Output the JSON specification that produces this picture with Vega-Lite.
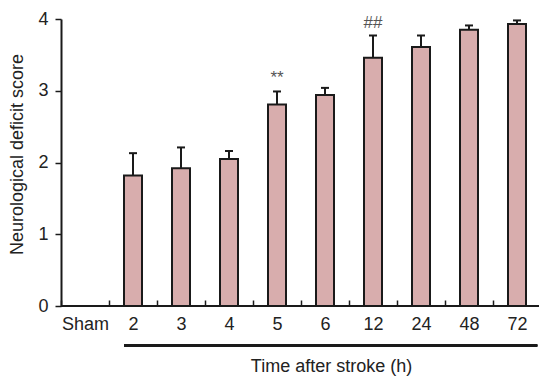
{
  "$schema": "https://vega.github.io/schema/vega-lite/v6.json",
  "autosize": "none",
  "width": 480,
  "height": 287,
  "padding": {"left": 61, "top": 19, "right": 0, "bottom": 70},
  "background": "white",
  "config": {
    "view": {"stroke": null},
    "font": "Liberation Sans",
    "axis": {"grid": false, "domainColor": "#1a1a1a", "domainWidth": 2, "tickColor": "#1a1a1a", "tickWidth": 1.5, "labelColor": "#222", "titleColor": "#222", "labelFont": "Liberation Sans", "titleFont": "Liberation Sans", "titleFontWeight": "normal"}
  },
  "data": {
    "values": [
      {"time": "Sham", "mean": null, "err": null, "sig": ""},
      {"time": "2", "mean": 1.82, "err": 2.13, "sig": ""},
      {"time": "3", "mean": 1.92, "err": 2.21, "sig": ""},
      {"time": "4", "mean": 2.05, "err": 2.16, "sig": ""},
      {"time": "5", "mean": 2.81, "err": 2.99, "sig": "**"},
      {"time": "6", "mean": 2.94, "err": 3.04, "sig": ""},
      {"time": "12", "mean": 3.46, "err": 3.77, "sig": "##"},
      {"time": "24", "mean": 3.61, "err": 3.77, "sig": ""},
      {"time": "48", "mean": 3.85, "err": 3.91, "sig": ""},
      {"time": "72", "mean": 3.93, "err": 3.98, "sig": ""}
    ]
  },
  "encoding": {
    "x": {
      "field": "time", "type": "nominal", "sort": null,
      "scale": {"domain": ["Sham", "2", "3", "4", "5", "6", "12", "24", "48", "72"], "paddingInner": 0, "paddingOuter": 0},
      "axis": {
        "title": "Time after stroke (h)", "titleFontSize": 18, "titleX": 270, "titleY": 71, "titleBaseline": "alphabetic", "titleAnchor": null,
        "labelAngle": 0, "labelFontSize": 18, "labelPadding": 9,
        "domain": false, "ticks": true, "tickBand": "extent", "tickSize": 6, "offset": -6, "labelFlush": false
      }
    }
  },
  "layer": [
    {
      "mark": {"type": "bar", "width": {"band": 0.375}, "fill": "#d8adad", "stroke": "#1a1a1a", "strokeWidth": 2},
      "transform": [{"filter": "datum.mean != null"}],
      "encoding": {
        "y": {
          "field": "mean", "type": "quantitative",
          "scale": {"domain": [0, 4], "nice": false, "zero": true},
          "axis": {
            "title": "Neurological deficit score", "titleFontSize": 18, "titleX": -44, "titleY": 135, "titleAlign": "center", "titleBaseline": "middle", "titleAnchor": null,
            "values": [0, 1, 2, 3, 4], "format": "d", "tickSize": 6, "labelPadding": 7, "labelFontSize": 18,
            "encode": {"labels": {"update": {"dy": {"signal": "datum.value == 0 ? 3 : datum.value == 4 ? -3 : 0"}}}}
          }
        }
      }
    },
    {
      "mark": {"type": "rule", "stroke": "#1a1a1a", "strokeWidth": 2, "clip": false},
      "encoding": {
        "x": {"datum": "Sham", "bandPosition": 0},
        "x2": {"datum": "72", "bandPosition": 1},
        "y": {"datum": 0}
      }
    },
    {
      "mark": {"type": "rule", "stroke": "#1a1a1a", "strokeWidth": 2},
      "transform": [{"filter": "datum.mean != null"}],
      "encoding": {
        "y": {"field": "mean", "type": "quantitative"},
        "y2": {"field": "err"}
      }
    },
    {
      "mark": {"type": "tick", "orient": "horizontal", "size": 8, "thickness": 2, "color": "#1a1a1a", "opacity": 1},
      "transform": [{"filter": "datum.mean != null"}],
      "encoding": {
        "y": {"field": "err", "type": "quantitative"}
      }
    },
    {
      "mark": {"type": "text", "fontSize": 17, "color": "#555", "dy": -8, "baseline": "alphabetic", "align": "center"},
      "transform": [{"filter": "datum.sig != ''"}],
      "encoding": {
        "y": {"field": "err", "type": "quantitative"},
        "text": {"field": "sig"}
      }
    },
    {
      "mark": {"type": "rule", "stroke": "#1a1a1a", "strokeWidth": 2, "clip": false},
      "encoding": {
        "x": {"datum": "2", "bandPosition": 0.32},
        "x2": {"datum": "72", "bandPosition": 0.92},
        "y": {"datum": -0.55}
      }
    }
  ]
}
